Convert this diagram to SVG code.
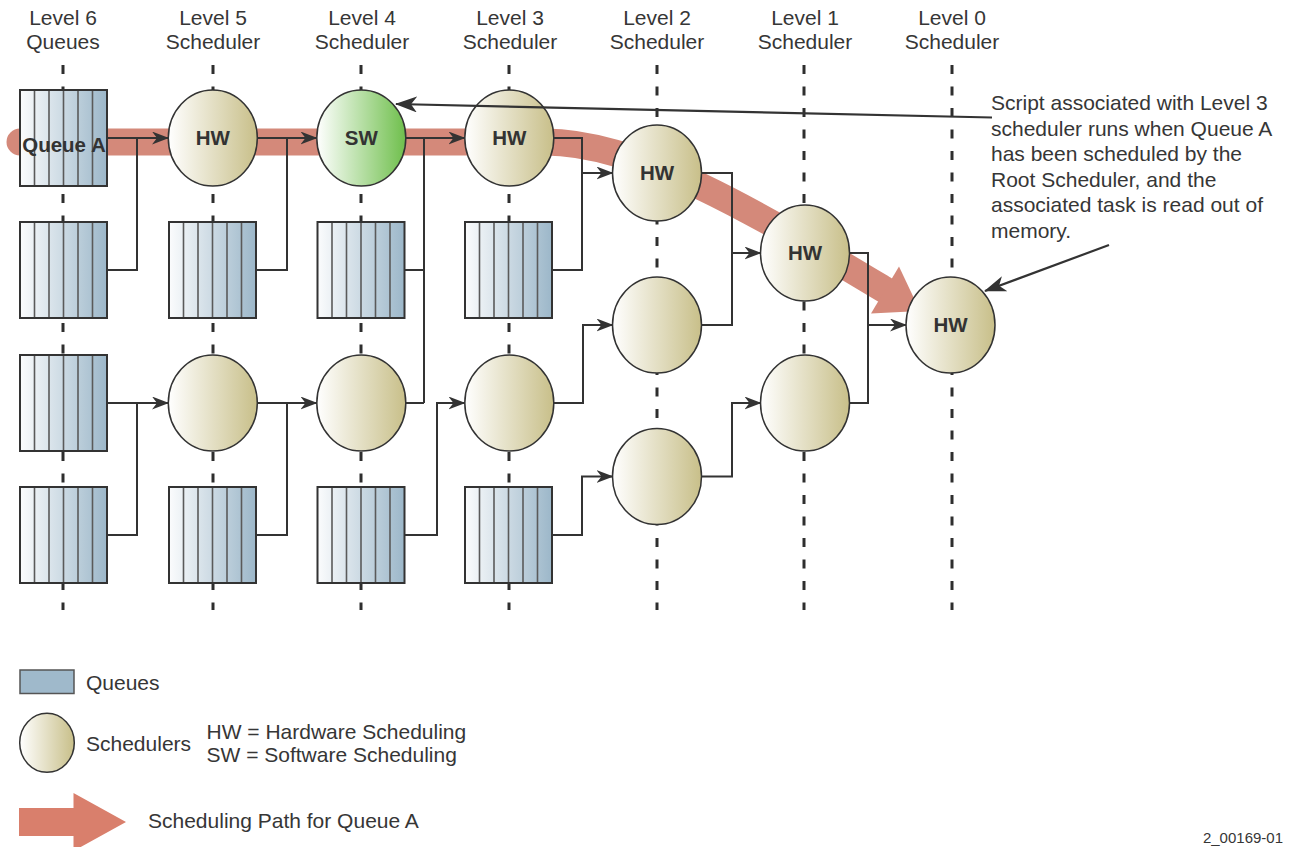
<svg xmlns="http://www.w3.org/2000/svg" xmlns:xlink="http://www.w3.org/1999/xlink" width="1293" height="847" viewBox="0 0 1293 847">
<style>
text{font-family:"Liberation Sans",Arial,sans-serif;fill:#363636;font-size:21px}
.hdr{text-anchor:middle}
.lbl{font-weight:bold;font-size:20.5px;text-anchor:middle;fill:#333}
.dash{stroke:#2e2e2e;stroke-width:3;stroke-dasharray:9 12.5;fill:none}
.sch{fill:url(#gSch);stroke:#333;stroke-width:1.5}
.sw{fill:url(#gSw);stroke:#333;stroke-width:1.5}
.con{fill:none;stroke:#333;stroke-width:2}
.call{fill:none;stroke:#333;stroke-width:2.2}
</style>
<defs>
<linearGradient id="gQ" x1="0" y1="0" x2="1" y2="0"><stop offset="0" stop-color="#fbfcfd"/><stop offset="1" stop-color="#9cb7c9"/></linearGradient>
<linearGradient id="gSch" x1="0" y1="0" x2="1" y2="0"><stop offset="0" stop-color="#ffffff"/><stop offset="1" stop-color="#c8bf89"/></linearGradient>
<linearGradient id="gSw" x1="0" y1="0" x2="1" y2="0"><stop offset="0" stop-color="#ffffff"/><stop offset="1" stop-color="#6fbf4c"/></linearGradient>
<g id="queue">
<rect x="0" y="0" width="87" height="96" fill="url(#gQ)"/>
<path d="M14.5,0V96M29,0V96M43.5,0V96M58,0V96M72.5,0V96" stroke="#5a5a5a" stroke-width="1.6" fill="none"/>
<rect x="0" y="0" width="87" height="96" fill="none" stroke="#333" stroke-width="2"/>
</g>
<marker id="ah" markerWidth="17" markerHeight="13" refX="16" refY="6.5" orient="auto" markerUnits="userSpaceOnUse"><path d="M0,0 L17,6.5 L0,13 L5,6.5 z" fill="#333"/></marker>
<marker id="ah2" markerWidth="22" markerHeight="16" refX="21" refY="8" orient="auto" markerUnits="userSpaceOnUse"><path d="M0,0 L22,8 L0,16 L6,8 z" fill="#333"/></marker>
</defs>
<rect width="1293" height="847" fill="#ffffff"/>

<g id="headers">
<text class="hdr" x="63" y="25">Level 6</text><text class="hdr" x="63" y="49">Queues</text>
<text class="hdr" x="213" y="25">Level 5</text><text class="hdr" x="213" y="49">Scheduler</text>
<text class="hdr" x="362" y="25">Level 4</text><text class="hdr" x="362" y="49">Scheduler</text>
<text class="hdr" x="510" y="25">Level 3</text><text class="hdr" x="510" y="49">Scheduler</text>
<text class="hdr" x="657" y="25">Level 2</text><text class="hdr" x="657" y="49">Scheduler</text>
<text class="hdr" x="805" y="25">Level 1</text><text class="hdr" x="805" y="49">Scheduler</text>
<text class="hdr" x="952" y="25">Level 0</text><text class="hdr" x="952" y="49">Scheduler</text>
</g>

<g id="level-lines">
<path class="dash" d="M63,65V610M213,65V610M361,65V610M509,65V610M657,65V610M804,65V610M952,65V610"/>
</g>

<g id="scheduling-path">
<path d="M20,142 H545 C640,142 760,215 885,290" fill="none" stroke="#d4897a" stroke-width="27" stroke-linecap="round"/>
<polygon points="899,266.5 920,311 871,313.5" fill="#d4897a"/>
</g>

<g id="queue-A"><use xlink:href="#queue" href="#queue" x="20" y="90"/><text class="lbl" x="64" y="152">Queue A</text></g>
<g id="q6-2"><use xlink:href="#queue" href="#queue" x="20" y="222"/></g>
<g id="q6-3"><use xlink:href="#queue" href="#queue" x="20" y="355"/></g>
<g id="q6-4"><use xlink:href="#queue" href="#queue" x="20" y="487"/></g>
<g id="q5-2"><use xlink:href="#queue" href="#queue" x="169" y="222"/></g>
<g id="q5-4"><use xlink:href="#queue" href="#queue" x="169" y="487"/></g>
<g id="q4-2"><use xlink:href="#queue" href="#queue" x="317.5" y="222"/></g>
<g id="q4-4"><use xlink:href="#queue" href="#queue" x="317.5" y="487"/></g>
<g id="q3-2"><use xlink:href="#queue" href="#queue" x="465" y="222"/></g>
<g id="q3-4"><use xlink:href="#queue" href="#queue" x="465" y="487"/></g>

<g id="s5-1"><ellipse class="sch" cx="212.8" cy="138" rx="44.5" ry="48"/><text class="lbl" x="212.8" y="145">HW</text></g>
<g id="s5-3"><ellipse class="sch" cx="212.8" cy="403" rx="44.5" ry="48"/></g>
<g id="s4-1"><ellipse class="sw" cx="361.3" cy="138" rx="44.5" ry="48"/><text class="lbl" x="361.3" y="145">SW</text></g>
<g id="s4-3"><ellipse class="sch" cx="361.3" cy="403" rx="44.5" ry="48"/></g>
<g id="s3-1"><ellipse class="sch" cx="509.3" cy="138" rx="44.5" ry="48"/><text class="lbl" x="509.3" y="145">HW</text></g>
<g id="s3-3"><ellipse class="sch" cx="509.3" cy="403" rx="44.5" ry="48"/></g>
<g id="s2-1"><ellipse class="sch" cx="657" cy="173" rx="44.5" ry="48"/><text class="lbl" x="657" y="180">HW</text></g>
<g id="s2-2"><ellipse class="sch" cx="657" cy="325" rx="44.5" ry="48"/></g>
<g id="s2-3"><ellipse class="sch" cx="657" cy="476.5" rx="44.5" ry="48"/></g>
<g id="s1-1"><ellipse class="sch" cx="805" cy="253" rx="44.5" ry="48"/><text class="lbl" x="805" y="260">HW</text></g>
<g id="s1-2"><ellipse class="sch" cx="805" cy="403" rx="44.5" ry="48"/></g>
<g id="s0"><ellipse class="sch" cx="950.5" cy="325" rx="44.5" ry="48"/><text class="lbl" x="950.5" y="332">HW</text></g>

<g id="connectors">
<path class="con" d="M107,138 H168" marker-end="url(#ah)"/>
<path class="con" d="M107,270 H137 V138"/>
<path class="con" d="M257,138 H316.5" marker-end="url(#ah)"/>
<path class="con" d="M256,270 H287 V138"/>
<path class="con" d="M406,138 H464.5" marker-end="url(#ah)"/>
<path class="con" d="M424,138 V403 M405,270 H424 M406,403 H424"/>
<path class="con" d="M554,138 H582 V173 H612.5" marker-end="url(#ah)"/>
<path class="con" d="M553,270 H582 V173"/>
<path class="con" d="M107,403 H168" marker-end="url(#ah)"/>
<path class="con" d="M107,535 H137 V403"/>
<path class="con" d="M257,403 H316.5" marker-end="url(#ah)"/>
<path class="con" d="M256,535 H287 V403"/>
<path class="con" d="M405,535 H437 V403 H464.5" marker-end="url(#ah)"/>
<path class="con" d="M554,403 H583 V325 H612.5" marker-end="url(#ah)"/>
<path class="con" d="M553,535 H582 V476.5 H612.5" marker-end="url(#ah)"/>
<path class="con" d="M702,173 H732 V253 H760.5" marker-end="url(#ah)"/>
<path class="con" d="M702,325 H732 V253"/>
<path class="con" d="M702,476.5 H732 V403 H760.5" marker-end="url(#ah)"/>
<path class="con" d="M850,253 H868 V403 H850"/>
<path class="con" d="M868,325 H906" marker-end="url(#ah)"/>
<path class="call" d="M992,117.5 L396,104" marker-end="url(#ah2)"/>
<path class="call" d="M1109,245 L985,291" marker-end="url(#ah2)"/>
</g>

<g id="note">
<text x="991" y="110">Script associated with Level 3</text>
<text x="991" y="135.5">scheduler runs when Queue A</text>
<text x="991" y="161">has been scheduled by the</text>
<text x="991" y="186.5">Root Scheduler, and the</text>
<text x="991" y="212">associated task is read out of</text>
<text x="991" y="237.5">memory.</text>
</g>

<g id="legend">
<rect x="20" y="670" width="54" height="23.5" fill="#9fb9cb" stroke="#555" stroke-width="1.5"/>
<text x="86" y="689.5">Queues</text>
<ellipse class="sch" cx="47" cy="742.8" rx="27.3" ry="29.5"/>
<text x="86" y="750.5">Schedulers</text>
<text x="206.5" y="738.5">HW = Hardware Scheduling</text>
<text x="206.5" y="761.5">SW = Software Scheduling</text>
<polygon points="19,808 73.5,808 73.5,793 126,822 73.5,851 73.5,836 19,836" fill="#d97f6c"/>
<text x="148" y="827.5">Scheduling Path for Queue A</text>
<text x="1283" y="843" style="font-size:15px;text-anchor:end">2_00169-01</text>
</g>
</svg>
